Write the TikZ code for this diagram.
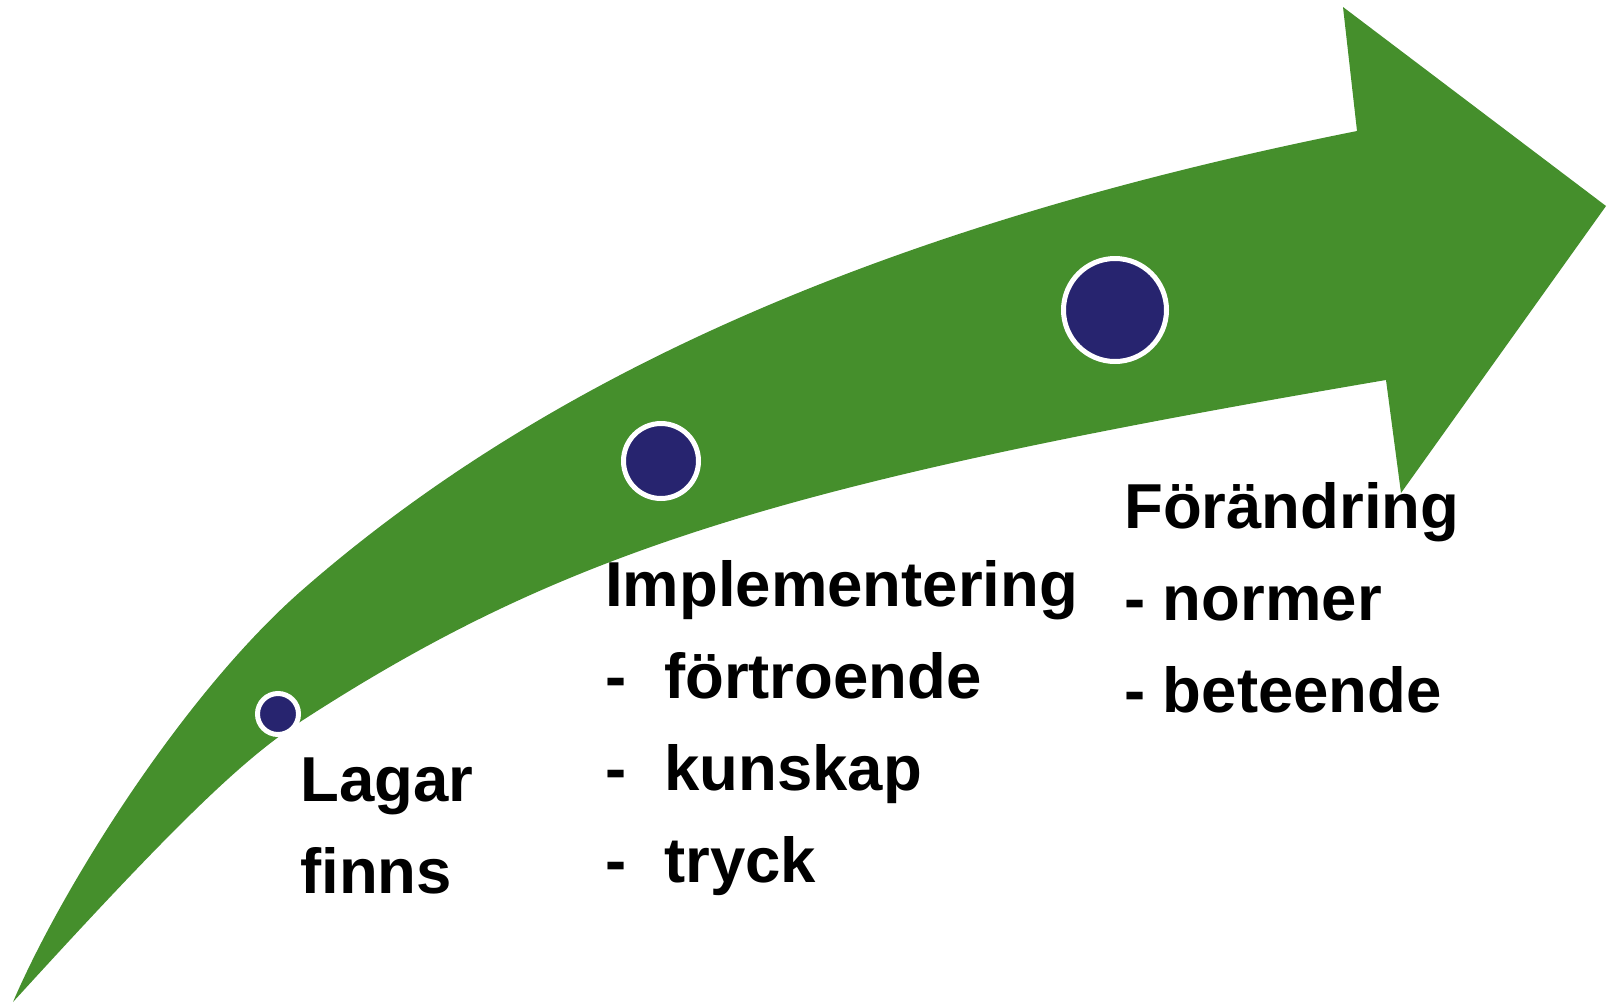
\documentclass[tikz,border=0pt]{standalone}
\usepackage{fontspec}
\setmainfont{Liberation Sans}
\definecolor{pilgron}{RGB}{69,143,44}
\definecolor{prickbla}{RGB}{39,36,111}
\tikzset{
  prick/.style={circle,fill=prickbla,draw=white,line width=5pt,inner sep=0pt},
  etikett/.style={anchor=base west,inner sep=0pt,align=left,font=\bfseries\fontsize{63.5}{92}\selectfont}
}
\begin{document}
\begin{tikzpicture}[x=1pt,y=-1pt]
  \useasboundingbox (0,0) rectangle (1610,1002);
  % pilen
  \fill[pilgron] (13,1002) .. controls (60,892) and (180,698) .. (300,592)
    .. controls (555,368) and (902,222) .. (1357,131)
    -- (1343,7) -- (1606,206) -- (1401,493) -- (1386,380)
    .. controls (780,483) and (562,552) .. (300,722)
    .. controls (240,761) and (169,831) .. (13,1002) -- cycle;
  % prickar
  \node[prick,minimum size=41pt] (lagdot) at (278,714) {};
  \node[prick,minimum size=75pt] (impdot) at (661,461) {};
  \node[prick,minimum size=103pt] (fordot) at (1115,310) {};
  % texter (base = sista raden)
  \node[etikett] (lagar) at (300,893) {Lagar\\finns};
  \node[etikett] (impl) at (605,882) {Implementering\\\makebox[59pt][l]{-}förtroende\\\makebox[59pt][l]{-}kunskap\\\makebox[59pt][l]{-}tryck};
  \node[etikett] (forandr) at (1124,712) {Förändring\\- normer\\- beteende};
\end{tikzpicture}
\end{document}
